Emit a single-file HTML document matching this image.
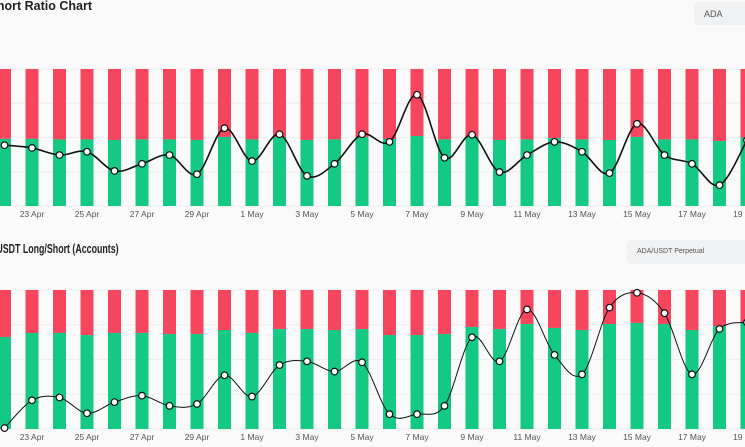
<!DOCTYPE html>
<html><head><meta charset="utf-8"><style>
html,body{margin:0;padding:0;background:#fafafa;width:745px;height:447px;overflow:hidden;font-family:"Liberation Sans",sans-serif}
.clip{position:absolute;left:0;overflow:hidden;height:20px}
.t{position:absolute;font-weight:bold;font-size:13px;color:#222;white-space:nowrap}
.dd{position:absolute;background:#f0f1f3;border-radius:4px 0 0 4px;color:#555;box-sizing:border-box;overflow:hidden;white-space:nowrap}
</style></head><body>
<div class="clip" style="top:-1px;width:120px">
<div class="t" style="right:28px;top:0;font-size:12.5px">Long/Short Ratio Chart</div></div>
<div class="dd" style="left:694px;top:2px;width:51px;height:23px;font-size:9px;padding:7px 0 0 10px">ADA</div>
<div class="clip" style="top:241px;width:140px">
<div class="t" style="right:21px;top:0;transform:scaleX(0.68);transform-origin:right center">ADA/USDT Long/Short (Accounts)</div></div>
<div class="dd" style="left:627px;top:240px;width:118px;height:24px;font-size:7px;padding:8px 0 0 10px">ADA/USDT Perpetual</div>
<svg id="c" width="745" height="447" style="position:absolute;left:0;top:0;overflow:hidden"></svg>
<script>
const dates=["22 Apr","23 Apr","24 Apr","25 Apr","26 Apr","27 Apr","28 Apr","29 Apr","30 Apr","1 May","2 May","3 May","4 May","5 May","6 May","7 May","8 May","9 May","10 May","11 May","12 May","13 May","14 May","15 May","16 May","17 May","18 May","19 May"];
const topLong=[49,49,48.6,48.6,48.2,48.6,48.6,48.2,50.4,48.6,50.4,48.2,48.6,50.4,48.9,51.1,48.6,50.4,48.2,48.6,49.6,48.6,48.2,50.4,48.6,48.6,47.4,50];
const topRatio=[0.961,0.956,0.943,0.949,0.914,0.927,0.943,0.908,0.992,0.932,0.981,0.905,0.927,0.981,0.967,1.053,0.938,0.980,0.912,0.943,0.967,0.949,0.910,1.000,0.943,0.927,0.888,0.970];
const botLong=[66.2,69.1,69.1,67.6,69.1,69.1,68.3,68.3,71.2,69.1,71.9,71.9,71.2,71.9,67.6,67.6,68.3,73.4,71.9,75.5,72.7,71.2,75.5,76.3,75.5,71.2,74.1,77];
const botRatio=[1.91,2.21,2.24,2.07,2.19,2.26,2.15,2.17,2.48,2.25,2.59,2.63,2.52,2.62,2.06,2.06,2.15,2.89,2.63,3.19,2.70,2.49,3.21,3.37,3.15,2.49,2.98,3.05];
const NS="http://www.w3.org/2000/svg",svg=document.getElementById('c');
function mk(t,a){const e=document.createElementNS(NS,t);for(const k in a)e.setAttribute(k,a[k]);svg.appendChild(e);return e;}
const xPos=i=>4.5+27.5*i;
function draw(pref,top,bot,longs,ratios,rmin,rmax,labY){
  const h=bot-top;
  for(let g=0;g<5;g++){const l=mk('line',{x1:0,x2:745,y1:top+h*g/4,y2:top+h*g/4,stroke:'#eee','stroke-width':1});
    }
  longs.forEach((v,i)=>{const x=xPos(i)-6.5,gy=bot-h*v/100;
    let r=mk('rect',{x:x,y:top,width:13,height:gy-top,fill:'#f6465d'});
    
    r=mk('rect',{x:x,y:gy,width:13,height:bot-gy,fill:'#13c983'});
    
    if(i%2==1){const t=mk('text',{x:xPos(i),y:labY,'font-size':8.5,fill:'#555','text-anchor':'middle','font-family':'Liberation Sans, sans-serif'});t.textContent=dates[i];
      }
  });
  const ry=v=>bot-(v-rmin)/(rmax-rmin)*h;
  const p=ratios.map((v,i)=>[xPos(i),ry(v)]);
  let d='M'+p[0][0]+','+p[0][1];
  for(let i=0;i<p.length-1;i++){const p0=p[i-1]||p[i],p1=p[i],p2=p[i+1],p3=p[i+2]||p2;
    d+=' C'+(p1[0]+(p2[0]-p0[0])/6)+','+(p1[1]+(p2[1]-p0[1])/6)+' '+(p2[0]-(p3[0]-p1[0])/6)+','+(p2[1]-(p3[1]-p1[1])/6)+' '+p2[0]+','+p2[1];}
  const ln=mk('path',{d:d,fill:'none',stroke:'#111','stroke-width':pref=='top'?1.6:1});
  
  p.forEach(q=>{const c=mk('circle',{cx:q[0],cy:q[1],r:3.3,fill:'#fff',stroke:'#111','stroke-width':1.2});
    });
}
draw('top',69,206,topLong,topRatio,0.85,1.10,217);
draw('bottom',290,429,botLong,botRatio,1.9,3.4,440);
</script>
</body></html>
